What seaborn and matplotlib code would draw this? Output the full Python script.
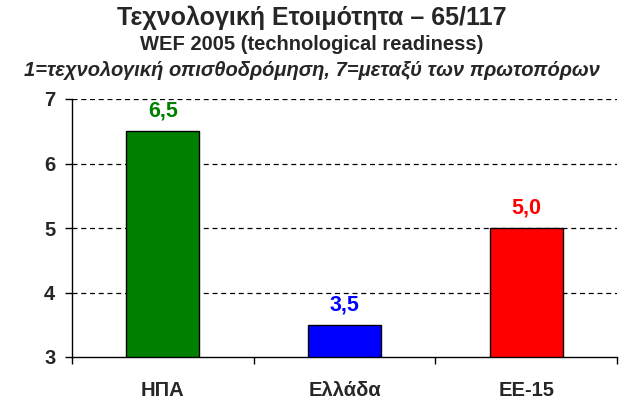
import matplotlib
matplotlib.use("Agg")
import matplotlib.pyplot as plt
import seaborn as sns
import pandas as pd
from matplotlib.ticker import FixedLocator

categories = ["ΗΠΑ", "Ελλάδα", "ΕΕ-15"]
values = [6.5, 3.5, 5.0]
labels = ["6,5", "3,5", "5,0"]
colors = ["#008000", "#0000ff", "#ff0000"]
yticks = [3, 4, 5, 6, 7]

sns.set_theme(style="white")
plt.rcParams['font.family'] = ['Liberation Sans', 'DejaVu Sans']

df = pd.DataFrame({"cat": categories, "val": values})

fig = plt.figure(figsize=(6.23, 4.03), dpi=100)
ax = fig.add_axes([72/623, 1-357/403, (617-72)/623, (357-99)/403])

sns.barplot(data=df, x="cat", y="val", hue="cat", palette=colors, ax=ax,
            width=0.4, edgecolor="black", linewidth=1, legend=False,
            saturation=1, bottom=0)

ax.set_ylim(3, 7)
ax.set_xlim(-0.5, 2.5)
ax.set_yticks(yticks)
ax.set_yticklabels([str(t) for t in yticks], fontsize=14.5, fontweight="bold")
ax.set_xticks(range(len(categories)))
ax.set_xticklabels(categories, fontsize=14.5, fontweight="bold")
ax.xaxis.set_minor_locator(FixedLocator([-0.5, 0.5, 1.5, 2.5]))
ax.tick_params(axis="x", which="major", bottom=False, length=0, pad=17)
ax.tick_params(axis="x", which="minor", bottom=True, length=5, width=1, color="black", direction="out")
ax.tick_params(axis="y", which="major", left=True, length=5, width=1, color="black", direction="out", pad=7)
ax.set_xlabel("")
ax.set_ylabel("")

for y in [4, 5, 6, 7]:
    ax.axhline(y, color="black", linestyle=(0, (4, 3)), linewidth=0.9, zorder=0)

for sp in ["top", "right"]:
    ax.spines[sp].set_visible(False)
for sp in ["left", "bottom"]:
    ax.spines[sp].set_color("black")
    ax.spines[sp].set_linewidth(1)

for i, (v, lab, c) in enumerate(zip(values, labels, colors)):
    ax.text(i, v + 0.15, lab, ha="center", va="bottom", color=c,
            fontsize=15.5, fontweight="bold")

fig.text(312/623, 1-18/403, "Τεχνολογική Ετοιμότητα – 65/117", ha="center", va="center",
         fontsize=18, fontweight="bold")
fig.text(312/623, 1-45/403, "WEF 2005 (technological readiness)", ha="center", va="center",
         fontsize=14.5, fontweight="bold")
fig.text(312/623, 1-70/403, "1=τεχνολογική οπισθοδρόμηση, 7=μεταξύ των πρωτοπόρων", ha="center",
         va="center", fontsize=14.5, fontweight="bold", fontstyle="italic")

fig.savefig("out.png", dpi=100)
